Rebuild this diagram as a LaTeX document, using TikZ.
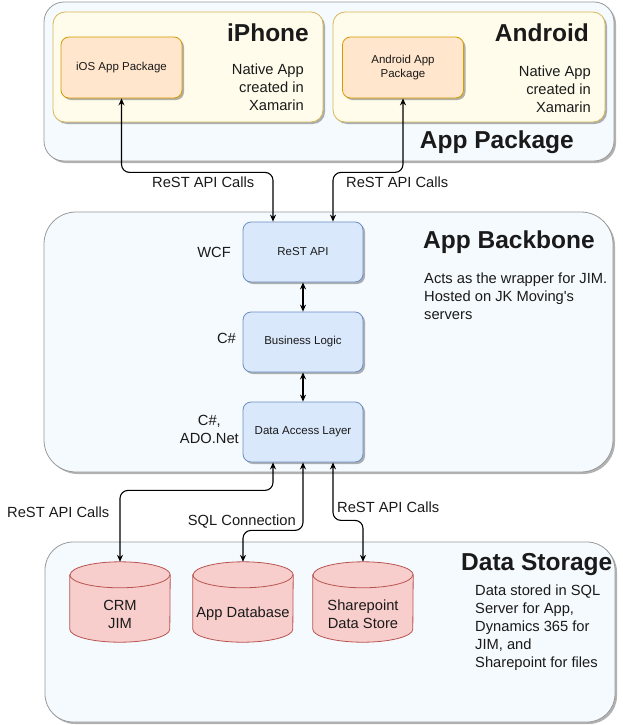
\documentclass[tikz,border=0pt]{standalone}
\usepackage{fontspec}
\setmainfont{Liberation Sans}
\usetikzlibrary{arrows.meta,shadows}

\definecolor{layerfill}{HTML}{F5FAFE}
\definecolor{layerdraw}{HTML}{999999}
\definecolor{devfill}{HTML}{FFFCEB}
\definecolor{devdraw}{HTML}{D6B656}
\definecolor{pkgfill}{HTML}{FFE6CC}
\definecolor{pkgdraw}{HTML}{D79B00}
\definecolor{svcfill}{HTML}{DAE8FC}
\definecolor{svcdraw}{HTML}{6C8EBF}
\definecolor{dbfill}{HTML}{F8CECC}
\definecolor{dbdraw}{HTML}{B85450}
\definecolor{ink}{HTML}{1A1A1A}

\newcommand{\bodyfont}{\fontsize{14.7}{18}\selectfont}
\newcommand{\smallfont}{\fontsize{11.5}{14}\selectfont}
\newcommand{\titlefont}{\bfseries\fontsize{24.5}{28}\selectfont}

\begin{document}
\begin{tikzpicture}[x=1pt, y=-1pt, >=Stealth, text=ink,
    shade/.style={drop shadow={shadow xshift=2pt, shadow yshift=-2pt, opacity=0.3, fill=black}},
    layer/.style={draw=layerdraw, fill=layerfill, line width=0.8pt, shade, inner sep=0pt},
    device/.style={draw=devdraw, fill=devfill, line width=0.8pt, rounded corners=12pt, shade,
        minimum width=270pt, minimum height=110pt, inner sep=0pt},
    package/.style={draw=pkgdraw, fill=pkgfill, line width=0.8pt, rounded corners=8pt, shade,
        minimum width=121pt, minimum height=61pt, align=center, font=\smallfont},
    service/.style={draw=svcdraw, fill=svcfill, line width=0.8pt, rounded corners=8pt, shade,
        minimum width=120pt, minimum height=60pt, align=center, font=\smallfont},
    store/.style={minimum width=100pt, minimum height=80pt, inner sep=0pt},
    cyl/.style={draw=dbdraw, fill=dbfill, line width=0.8pt},
    storetext/.style={font=\bodyfont, align=center, inner sep=0pt, yshift=-12pt},
    title/.style={font=\titlefont, inner sep=0pt},
    note/.style={font=\bodyfont, inner sep=0pt},
    link/.style={line width=1.1pt, rounded corners=8pt,
        {Stealth[length=7pt,width=6pt]}-{Stealth[length=7pt,width=6pt]}}]

    %% Background
    \useasboundingbox (0,0) rectangle (622,725);

    % Layers
    \node[layer, rounded corners=20pt, minimum width=570pt, minimum height=159pt] (pkglayer) at (329,81.5) {};
    \node[layer, rounded corners=32pt, minimum width=569pt, minimum height=260pt] (bonelayer) at (328.5,342) {};
    \node[layer, rounded corners=28pt, minimum width=570pt, minimum height=180pt] (datalayer) at (330,632) {};

    % Devices
    \node[device] (iphone) at (188,67) {};
    \node[device, minimum width=272pt] (android) at (469,67) {};

    \node[package] (ios) at (121.5,67.5) {iOS App Package};
    \node[package] (apk) at (403,67.5) {Android App\\Package};

    \node[title, anchor=east] (iphonetitle) at (309,33) {iPhone};
    \node[title, anchor=east] (androidtitle) at (589,33) {Android};
    \node[note, anchor=east, align=right] (iphonenote) at (304,87) {Native App\\created in\\Xamarin};
    \node[note, anchor=east, align=right] (androidnote) at (591,89) {Native App\\created in\\Xamarin};
    \node[title, anchor=east] (pkgtitle) at (574,142) {App Package};

    % Backbone
    \node[service] (rest) at (303,252) {ReST API};
    \node[service] (logic) at (303,342) {Business Logic};
    \node[service] (dal) at (303,432) {Data Access Layer};

    \node[note, anchor=east] (wcf) at (231,252) {WCF};
    \node[note, anchor=east] (csharp) at (236,338) {C\#};
    \node[note, anchor=east, align=center] (adonet) at (239,429) {C\#,\\ADO.Net};

    \node[title, anchor=west] (bonetitle) at (423,242) {App Backbone};
    \node[note, anchor=west, align=left] (bonenote) at (424,296)
        {Acts as the wrapper for JIM.\\Hosted on JK Moving\textquotesingle s\\servers};

    % Storage
    \node[store] (crm) at (120,602) {};
    \node[store] (appdb) at (243,602) {};
    \node[store] (sp) at (363,602) {};

    \foreach \db in {crm,appdb,sp}
    {
    \draw[cyl] ([yshift=-13pt]\db.north west) -- ([yshift=13pt]\db.south west)
        arc (180:360:50pt and 13pt) -- ([yshift=-13pt]\db.north east)
        arc (0:180:50pt and 13pt) -- cycle;
    \draw[cyl, fill=none] ([yshift=-13pt]\db.north west) arc (180:360:50pt and 13pt);
    }

    \node[storetext] (crmtext) at (crm) {CRM\\JIM};
    \node[storetext] (appdbtext) at (appdb) {App Database};
    \node[storetext] (sptext) at (sp) {Sharepoint\\Data Store};

    \node[title, anchor=west] (datatitle) at (461,565) {Data Storage};
    \node[note, anchor=west, align=left] (datanote) at (475,628)
        {Data stored in SQL\\Server for App,\\Dynamics 365 for\\JIM, and\\Sharepoint for files};

    % Links
    \draw[link] (ios.south) -- ++(0,74) -| ([xshift=-30pt]rest.north);
    \draw[link] (apk.south) -- ++(0,74) -| ([xshift=30pt]rest.north);
    \draw[link] (rest) -- (logic);
    \draw[link] (logic) -- (dal);
    \draw[link] ([xshift=-30pt]dal.south) -- ++(0,28) -| (crm.north);
    \draw[link] (dal.south) -- ++(0,68) -| (appdb.north);
    \draw[link] ([xshift=30pt]dal.south) -- ++(0,58) -| (sp.north);

    \node[note, anchor=west] (restcalls1) at (152,182) {ReST API Calls};
    \node[note, anchor=west] (restcalls2) at (346,182) {ReST API Calls};
    \node[note, anchor=west] (restcalls3) at (7,512) {ReST API Calls};
    \node[note, anchor=east] (sqlconn) at (296,522) {SQL Connection};
    \node[note, anchor=west] (restcalls4) at (337,507) {ReST API Calls};

\end{tikzpicture}
\end{document}
